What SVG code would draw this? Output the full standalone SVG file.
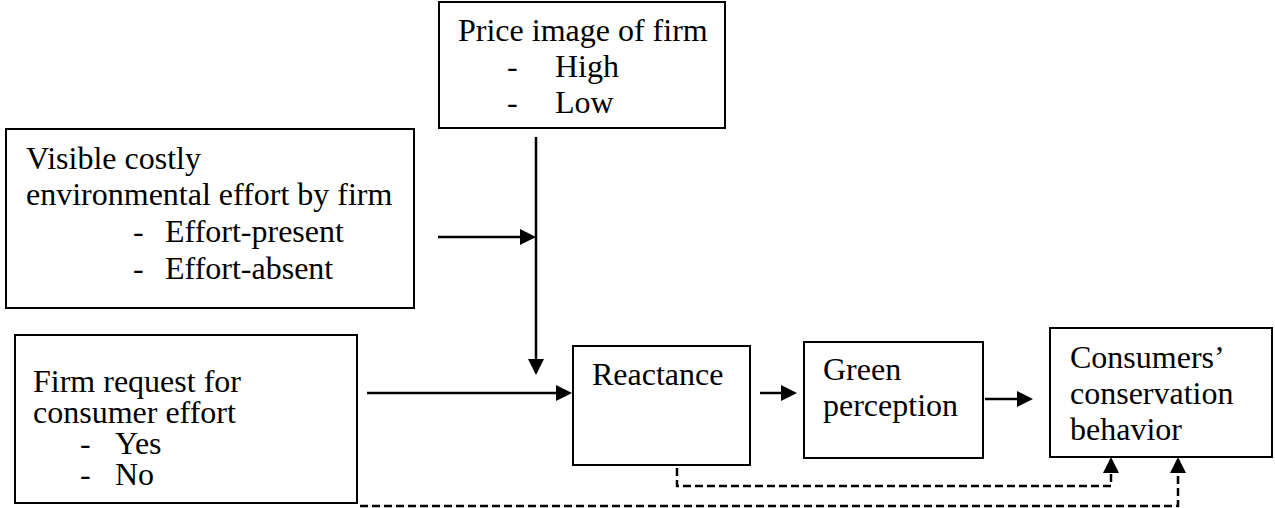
<svg xmlns="http://www.w3.org/2000/svg" width="1275" height="508" viewBox="0 0 1275 508">
<style>
.box{fill:#fff;stroke:#000;stroke-width:2}
text{font-family:"Liberation Serif","Times New Roman",serif;font-size:32px;fill:#000}
.ln{fill:none;stroke:#000;stroke-width:2.5}
.dl{fill:none;stroke:#000;stroke-width:2.5;stroke-dasharray:8 4}
</style>
<defs>
<marker id="ah" markerUnits="userSpaceOnUse" markerWidth="16" markerHeight="16" refX="0" refY="8" orient="auto">
<path d="M0,0 L16,8 L0,16 z" fill="#000"/>
</marker>
</defs>
<rect width="1275" height="508" fill="#fff"/>
<g id="price">
<rect class="box" x="439" y="2" width="286" height="126"/>
<text x="458" y="41">Price image of firm</text>
<text x="507" y="77">-</text><text x="555" y="77">High</text>
<text x="507" y="113">-</text><text x="555" y="113">Low</text>
</g>
<g id="visible">
<rect class="box" x="6" y="129" width="408" height="179"/>
<text x="26" y="169">Visible costly</text>
<text x="26" y="205">environmental effort by firm</text>
<text x="133" y="242">-</text><text x="165" y="242">Effort-present</text>
<text x="133" y="279">-</text><text x="165" y="279">Effort-absent</text>
</g>
<g id="request">
<rect class="box" x="15" y="335" width="342" height="168"/>
<text x="33" y="392">Firm request for</text>
<text x="33" y="423">consumer effort</text>
<text x="80" y="454">-</text><text x="115" y="454">Yes</text>
<text x="80" y="485">-</text><text x="115" y="485">No</text>
</g>
<g id="reactance">
<rect class="box" x="573" y="346" width="177" height="119"/>
<text x="592" y="385">Reactance</text>
</g>
<g id="green">
<rect class="box" x="804" y="342" width="179" height="116"/>
<text x="823" y="380">Green</text>
<text x="823" y="416">perception</text>
</g>
<g id="consumers">
<rect class="box" x="1050" y="328" width="222" height="129"/>
<text x="1070" y="368">Consumers’</text>
<text x="1070" y="404">conservation</text>
<text x="1070" y="440">behavior</text>
</g>
<g id="connectors">
<path class="ln" d="M536,137 V359" marker-end="url(#ah)"/>
<path class="ln" d="M438,237 H520" marker-end="url(#ah)"/>
<path class="ln" d="M367,393 H556" marker-end="url(#ah)"/>
<path class="ln" d="M760,393 H781" marker-end="url(#ah)"/>
<path class="ln" d="M985,399 H1017" marker-end="url(#ah)"/>
<path class="dl" d="M677,468 V486 H1111 V473" marker-end="url(#ah)"/>
<path class="dl" d="M360,506 H1178 V473" marker-end="url(#ah)"/>
</g>
</svg>
